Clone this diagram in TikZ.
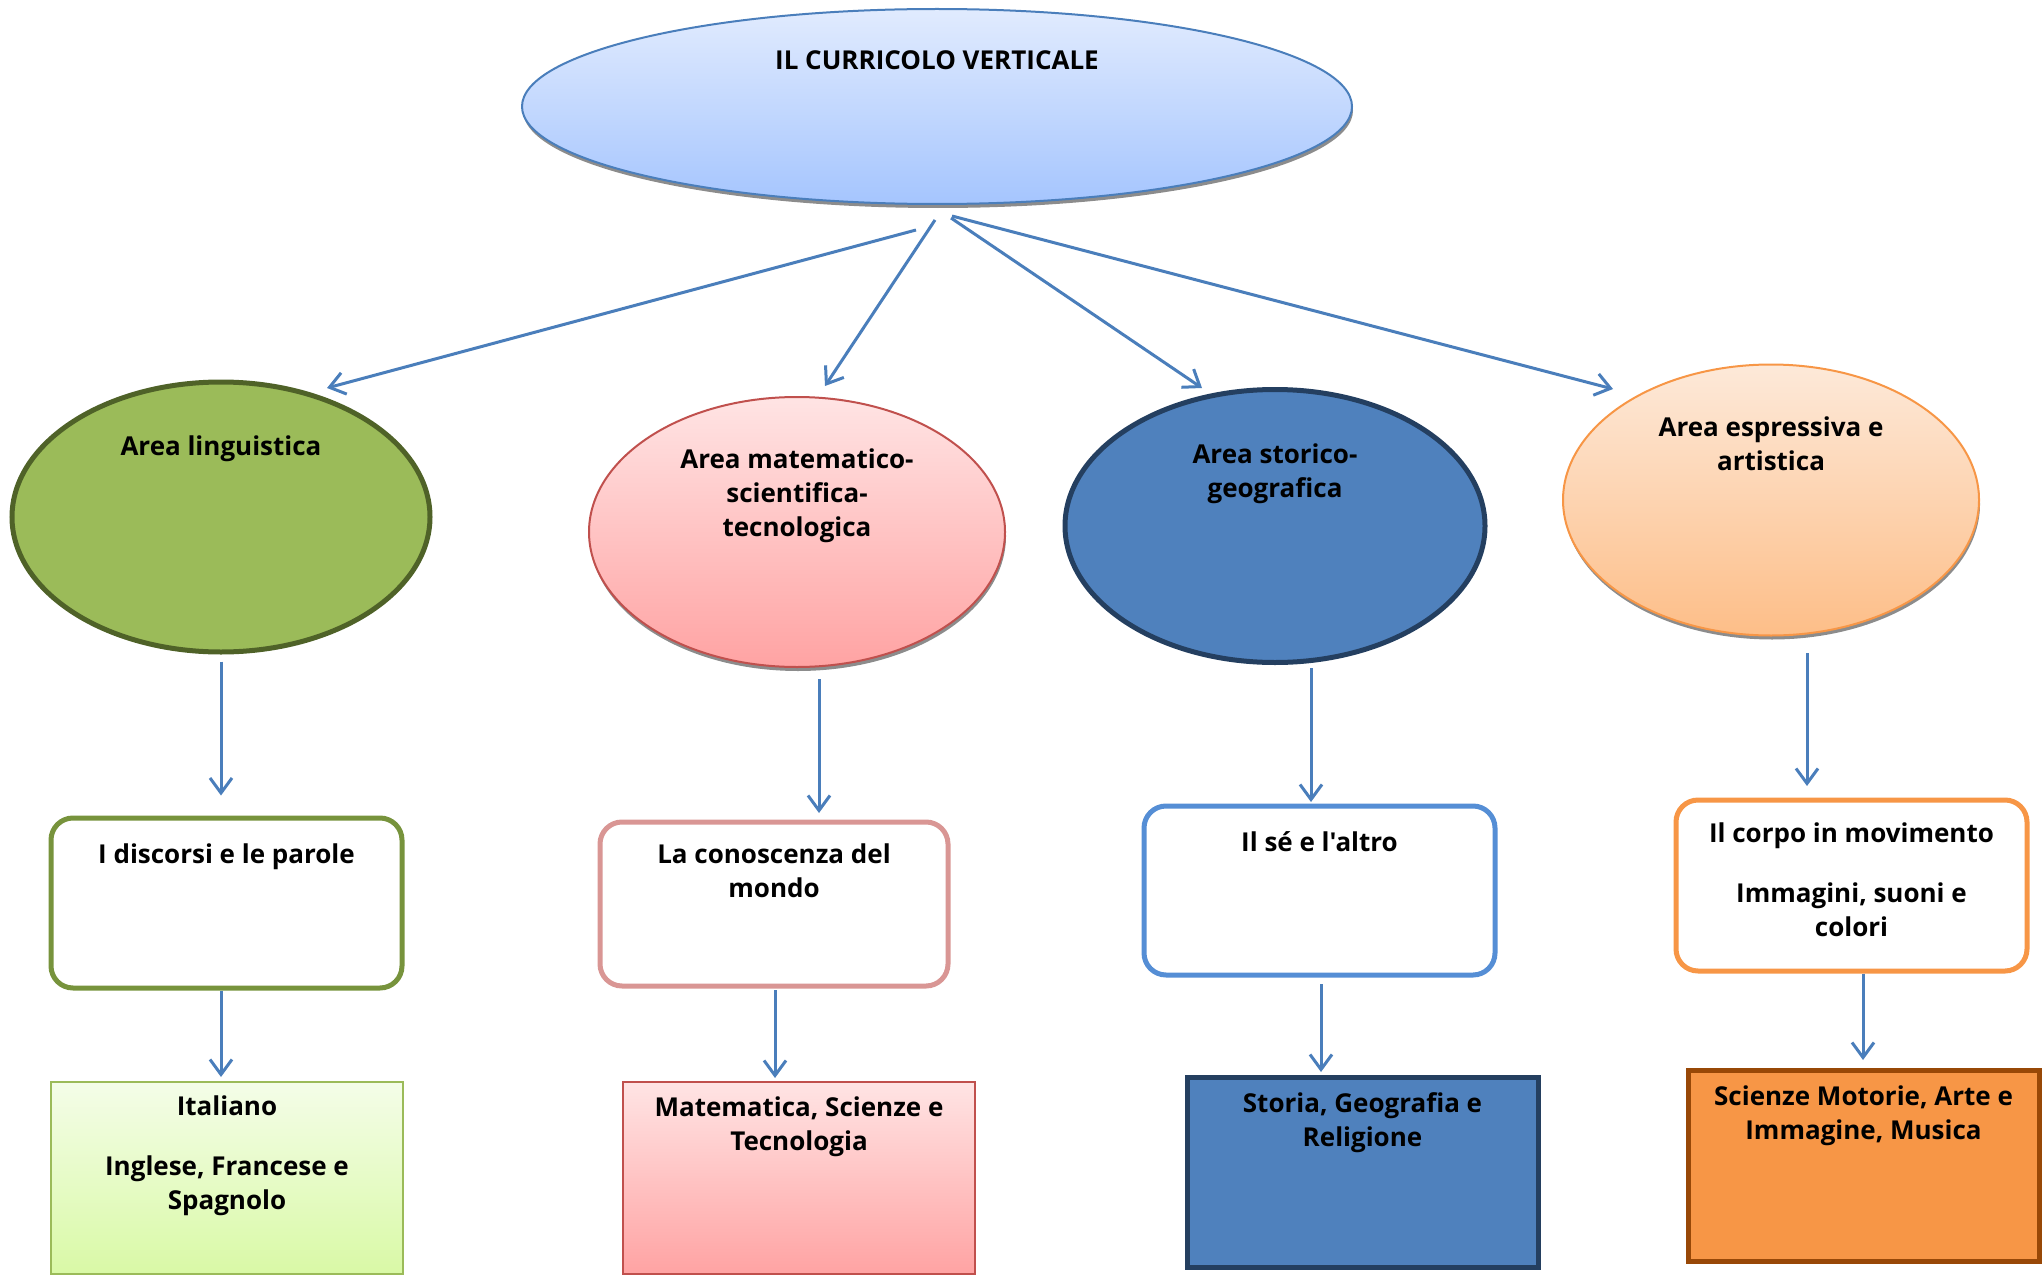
\documentclass[tikz,border=0pt]{standalone}
\usepackage{fontspec}
\setmainfont{Open Sans}[Ligatures=TeXOff]
\usetikzlibrary{shapes.geometric,arrows.meta,shadows}
\definecolor{arrowc}{HTML}{4A7EBB}
\definecolor{topA}{HTML}{E1EBFE}
\definecolor{topB}{HTML}{A5C5FE}
\definecolor{topL}{HTML}{4A7EBB}
\definecolor{grnF}{HTML}{9BBB59}
\definecolor{grnL}{HTML}{4F6228}
\definecolor{pnkA}{HTML}{FFE4E4}
\definecolor{pnkB}{HTML}{FFA3A3}
\definecolor{pnkL}{HTML}{C0504D}
\definecolor{bluF}{HTML}{4F81BD}
\definecolor{bluL}{HTML}{243F60}
\definecolor{orgA}{HTML}{FDE9D9}
\definecolor{orgB}{HTML}{FDBE88}
\definecolor{orgL}{HTML}{F79646}
\definecolor{b1L}{HTML}{77933C}
\definecolor{b2L}{HTML}{D99694}
\definecolor{b3L}{HTML}{558ED5}
\definecolor{b4L}{HTML}{F79646}
\definecolor{c1A}{HTML}{F4FDE8}
\definecolor{c1B}{HTML}{D9F9A6}
\definecolor{c4F}{HTML}{F79646}
\definecolor{c4L}{HTML}{984807}
\tikzset{
  txt/.style={font=\fontsize{26}{34}\selectfont\bfseries, align=center, anchor=north, inner sep=0pt, text=black},
  ell/.style={ellipse, inner sep=0pt},
  shad/.style={drop shadow={shadow xshift=1pt, shadow yshift=-4pt, fill=black!45, opacity=1}},
  rbox/.style={rectangle, rounded corners=22pt, line width=5pt, fill=white, inner sep=0pt},
  sbox/.style={rectangle, inner sep=0pt},
  arr/.style={draw=arrowc, line width=3pt, -{Straight Barb[length=15pt,width=22pt]}},
}
\begin{document}
\begin{tikzpicture}[x=1pt,y=1pt]
\useasboundingbox (0,0) rectangle (2044,-1276);
% top ellipse
\node[ell, shad, draw=topL, line width=2pt, top color=topA, bottom color=topB,
      minimum width=830pt, minimum height=195pt] (top) at (937,-106.5) {};
\node[txt] (ttop) at (937,-46) {\strut IL CURRICOLO VERTICALE};
% area ellipses
\node[ell, draw=grnL, line width=5pt, fill=grnF, minimum width=418pt, minimum height=270pt] (e1) at (221,-517) {};
\node[ell, shad, draw=pnkL, line width=2pt, top color=pnkA, bottom color=pnkB, minimum width=416pt, minimum height=270pt] (e2) at (797,-532) {};
\node[ell, draw=bluL, line width=5pt, fill=bluF, minimum width=420pt, minimum height=273pt] (e3) at (1275,-526) {};
\node[ell, shad, draw=orgL, line width=2pt, top color=orgA, bottom color=orgB, minimum width=416pt, minimum height=271pt] (e4) at (1771,-500) {};
\node[txt] (te1) at (221,-431) {\strut Area linguistica};
\node[txt] (te2) at (797,-444) {\strut Area matematico-\\scientifica-\\tecnologica};
\node[txt] (te3) at (1275,-439) {\strut Area storico-\\geografica};
\node[txt] (te4) at (1771,-412) {\strut Area espressiva e\\artistica};
% rounded boxes
\node[rbox, draw=b1L, minimum width=351pt, minimum height=170pt] (b1) at (226.5,-903) {};
\node[rbox, draw=b2L, minimum width=348pt, minimum height=164pt] (b2) at (774,-904) {};
\node[rbox, draw=b3L, minimum width=351pt, minimum height=169pt] (b3) at (1319.5,-890.5) {};
\node[rbox, draw=b4L, minimum width=351pt, minimum height=171pt] (b4) at (1851.5,-885.5) {};
\node[txt] (tb1) at (226.5,-839) {\strut I discorsi e le parole};
\node[txt] (tb2) at (774,-839) {\strut La conoscenza del\\mondo};
\node[txt] (tb3) at (1319.5,-827) {\strut Il sé e l'altro};
\node[txt] (tb4) at (1851.5,-818) {\strut Il corpo in movimento\\[26pt]Immagini, suoni e\\colori};
% bottom boxes
\node[sbox, draw=grnF, line width=2pt, top color=c1A, bottom color=c1B, minimum width=352pt, minimum height=192pt] (c1) at (227,-1178) {};
\node[sbox, draw=pnkL, line width=2pt, top color=pnkA, bottom color=pnkB, minimum width=352pt, minimum height=192pt] (c2) at (799,-1178) {};
\node[sbox, draw=bluL, line width=5pt, fill=bluF, minimum width=351pt, minimum height=190pt] (c3) at (1362.5,-1172) {};
\node[sbox, draw=c4L, line width=5pt, fill=c4F, minimum width=351pt, minimum height=191pt] (c4) at (1863.5,-1165.5) {};
\node[txt] (tc1) at (227,-1091) {\strut Italiano\\[26pt]Inglese, Francese e\\Spagnolo};
\node[txt] (tc2) at (799,-1092) {\strut Matematica, Scienze e\\Tecnologia};
\node[txt] (tc3) at (1362.5,-1088) {\strut Storia, Geografia e\\Religione};
\node[txt] (tc4) at (1863.5,-1081) {\strut Scienze Motorie, Arte e\\Immagine, Musica};
% arrows from top
\coordinate (s1) at (916,-230);
\coordinate (s2) at (935,-220);
\coordinate (s3) at (951,-218);
\coordinate (s4) at (952,-216);
\coordinate (t1) at (327,-388);
\coordinate (t2) at (825,-386);
\coordinate (t3) at (1202,-388);
\coordinate (t4) at (1613,-389);
\draw[arr] (s1) -- (t1);
\draw[arr] (s2) -- (t2);
\draw[arr] (s3) -- (t3);
\draw[arr] (s4) -- (t4);
% vertical arrows
\coordinate (v1) at (221,0);
\coordinate (v2) at (819,0);
\coordinate (v3) at (1311,0);
\coordinate (v4) at (1807,0);
\coordinate (w1) at (221,0);
\coordinate (w2) at (775,0);
\coordinate (w3) at (1321,0);
\coordinate (w4) at (1863,0);
\draw[arr, shorten <=7pt, shorten >=20pt] (v1 |- e1.south) -- (v1 |- b1.north);
\draw[arr, shorten <=11pt, shorten >=6.5pt] (v2 |- e2.south) -- (v2 |- b2.north);
\draw[arr, shorten <=3pt, shorten >=1.5pt] (v3 |- e3.south) -- (v3 |- b3.north);
\draw[arr, shorten <=16.5pt, shorten >=11.5pt] (v4 |- e4.south) -- (v4 |- b4.north);
\draw[arr, shorten >=4pt] (w1 |- b1.south) -- (w1 |- c1.north);
\draw[arr, shorten <=1.5pt, shorten >=3pt] (w2 |- b2.south) -- (w2 |- c2.north);
\draw[arr, shorten <=6.5pt, shorten >=2.5pt] (w3 |- b3.south) -- (w3 |- c3.north);
\draw[arr, shorten >=7.5pt] (w4 |- b4.south) -- (w4 |- c4.north);
\end{tikzpicture}
\end{document}
